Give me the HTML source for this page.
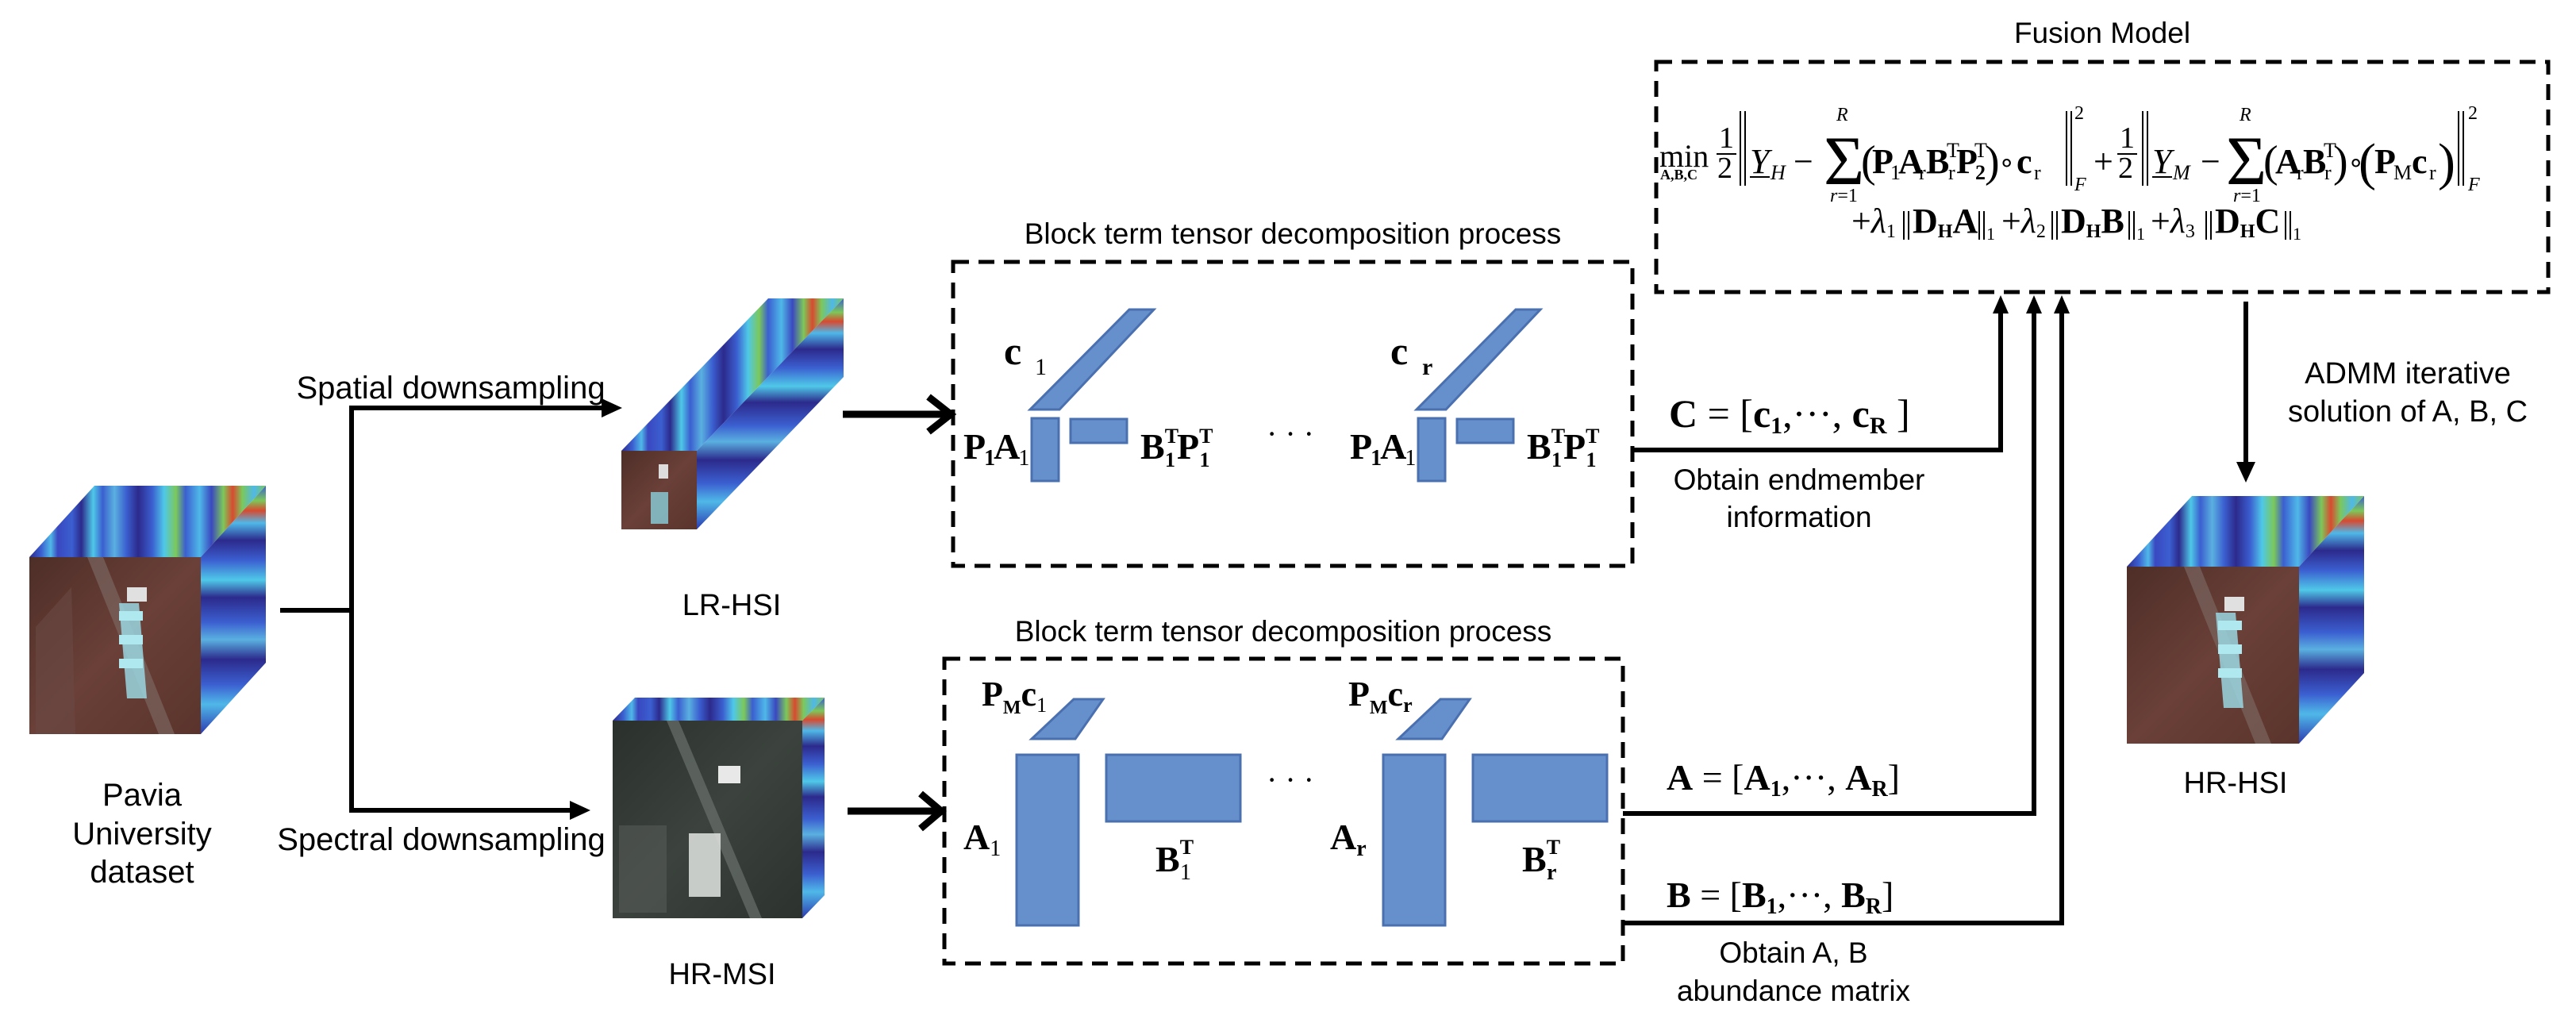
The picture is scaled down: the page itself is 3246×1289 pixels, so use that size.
<!DOCTYPE html>
<html><head><meta charset="utf-8"><style>
html,body{margin:0;padding:0;background:#fff;}
svg{display:block;}
.s{font-family:"Liberation Sans",Arial,sans-serif;fill:#000;}
.m{font-family:"Liberation Serif","Times New Roman",serif;fill:#000;}
.b{font-weight:bold;}
</style></head><body>
<svg width="3246" height="1289" viewBox="0 0 3246 1289" xmlns="http://www.w3.org/2000/svg">
<defs>
<linearGradient id="specx" x1="0" y1="0" x2="1" y2="0">
<stop offset="0" stop-color="#2c2a8c"/><stop offset="0.05" stop-color="#3b5fd0"/><stop offset="0.09" stop-color="#4fb8e8"/>
<stop offset="0.12" stop-color="#3a48c0"/><stop offset="0.18" stop-color="#3b5fd0"/><stop offset="0.22" stop-color="#2c2a8c"/>
<stop offset="0.27" stop-color="#4fc8e8"/><stop offset="0.31" stop-color="#3b5fd0"/><stop offset="0.36" stop-color="#5ab0e0"/>
<stop offset="0.41" stop-color="#3b5fd0"/><stop offset="0.46" stop-color="#2c2a8c"/><stop offset="0.52" stop-color="#3b5fd0"/>
<stop offset="0.57" stop-color="#4fc8e8"/><stop offset="0.62" stop-color="#7cc85a"/><stop offset="0.66" stop-color="#3b5fd0"/>
<stop offset="0.72" stop-color="#4fb8e8"/><stop offset="0.77" stop-color="#3a48c0"/><stop offset="0.82" stop-color="#7cc85a"/>
<stop offset="0.86" stop-color="#d84a30"/><stop offset="0.9" stop-color="#7cc85a"/><stop offset="0.95" stop-color="#4fb8e8"/><stop offset="1" stop-color="#7cc85a"/>
</linearGradient>
<linearGradient id="specy" x1="0" y1="0" x2="0" y2="1">
<stop offset="0" stop-color="#3b5fd0"/><stop offset="0.06" stop-color="#7cc85a"/><stop offset="0.1" stop-color="#d84a30"/>
<stop offset="0.15" stop-color="#4fb8e8"/><stop offset="0.22" stop-color="#2c2a8c"/><stop offset="0.3" stop-color="#3b5fd0"/>
<stop offset="0.38" stop-color="#4fc8e8"/><stop offset="0.45" stop-color="#2c2a8c"/><stop offset="0.55" stop-color="#3b5fd0"/>
<stop offset="0.62" stop-color="#5ab0e0"/><stop offset="0.7" stop-color="#2c2a8c"/><stop offset="0.8" stop-color="#3b5fd0"/>
<stop offset="0.88" stop-color="#4fb8e8"/><stop offset="1" stop-color="#2c3ab0"/>
</linearGradient>
<linearGradient id="rgb" x1="0" y1="0" x2="1" y2="1">
<stop offset="0" stop-color="#4e2e28"/><stop offset="0.5" stop-color="#6a4038"/><stop offset="1" stop-color="#5a342c"/>
</linearGradient>
<linearGradient id="gray" x1="0" y1="0" x2="1" y2="1">
<stop offset="0" stop-color="#2a302c"/><stop offset="0.5" stop-color="#3c433e"/><stop offset="1" stop-color="#2c322e"/>
</linearGradient>
</defs>

<polygon points="37,702 119,612 335,612 253,702" fill="url(#specx)"/>
<polygon points="253,702 335,612 335,835 253,925" fill="url(#specy)"/>
<rect x="37" y="702" width="216" height="223" fill="url(#rgb)"/>
<polygon points="110,702 130,702 220,925 200,925" fill="#7a6560" opacity="0.7"/>
<polygon points="150,760 175,760 185,880 160,880" fill="#9ad6e0" opacity="0.85"/>
<rect x="150" y="770" width="30" height="12" fill="#b0e8f0"/>
<rect x="150" y="800" width="30" height="12" fill="#b0e8f0"/>
<rect x="150" y="830" width="30" height="12" fill="#b0e8f0"/>
<rect x="160" y="740" width="25" height="18" fill="#e0e0e0"/>
<polygon points="45,790 90,740 95,925 45,925" fill="#6a4a44" opacity="0.6"/>

<polygon points="783,568 968,376 1063,376 878,568" fill="url(#specx)"/>
<polygon points="878,568 1063,376 1063,475 878,667" fill="url(#specy)"/>
<rect x="783" y="568" width="95" height="99" fill="url(#rgb)"/>
<rect x="820" y="620" width="22" height="40" fill="#8ad0dc" opacity="0.8"/>
<rect x="830" y="585" width="12" height="18" fill="#ddd"/>

<polygon points="772,908 800,879 1039,879 1011,908" fill="url(#specx)"/>
<polygon points="1011,908 1039,879 1039,1128 1011,1157" fill="url(#specy)"/>
<rect x="772" y="908" width="239" height="249" fill="url(#gray)"/>
<polygon points="840,908 855,908 960,1157 945,1157" fill="#6a706c" opacity="0.7"/>
<rect x="868" y="1050" width="40" height="80" fill="#d8dcd8" opacity="0.9"/>
<rect x="905" y="965" width="28" height="22" fill="#e8e8e8"/>
<rect x="780" y="1040" width="60" height="110" fill="#555a56" opacity="0.6"/>

<polygon points="2680,714 2762,625 2979,625 2897,714" fill="url(#specx)"/>
<polygon points="2897,714 2979,625 2979,848 2897,937" fill="url(#specy)"/>
<rect x="2680" y="714" width="217" height="223" fill="url(#rgb)"/>
<polygon points="2752,714 2772,714 2862,937 2842,937" fill="#7a6560" opacity="0.7"/>
<polygon points="2792,772 2817,772 2827,892 2802,892" fill="#9ad6e0" opacity="0.85"/>
<rect x="2795" y="782" width="30" height="12" fill="#b0e8f0"/>
<rect x="2795" y="812" width="30" height="12" fill="#b0e8f0"/>
<rect x="2795" y="842" width="30" height="12" fill="#b0e8f0"/>
<rect x="2803" y="752" width="25" height="18" fill="#e0e0e0"/>

<g stroke="#000" stroke-width="6" fill="none">
<line x1="353" y1="769" x2="443" y2="769"/>
<line x1="443" y1="511" x2="443" y2="1024"/>
<line x1="440" y1="514" x2="760" y2="514"/>
<line x1="440" y1="1021" x2="720" y2="1021"/>
<line x1="1062" y1="522" x2="1195" y2="522" stroke-width="9"/>
<line x1="1068" y1="1022" x2="1183" y2="1022" stroke-width="9"/>
<polyline points="1170,500 1198,522 1170,544" stroke-width="9"/>
<polyline points="1160,1000 1186,1022 1160,1044" stroke-width="9"/>
</g>
<polygon points="758,502 784,514 758,526" fill="#000"/>
<polygon points="718,1009 744,1021 718,1033" fill="#000"/>

<g stroke="#000" stroke-width="5" fill="none" stroke-dasharray="20 12">
<rect x="1201" y="330" width="856" height="383"/>
<rect x="1190" y="830" width="855" height="384"/>
<rect x="2087" y="78" width="1124" height="290"/>
</g>

<g fill="#6690cc" stroke="#4a70b0" stroke-width="3">
<polygon points="1298,516 1335,516 1454,390 1423,390"/>
<rect x="1300" y="527" width="34" height="79"/>
<rect x="1349" y="528" width="71" height="30"/>
<polygon points="1785,516 1822,516 1941,390 1910,390"/>
<rect x="1787" y="527" width="34" height="79"/>
<rect x="1836" y="528" width="71" height="30"/>
<polygon points="1300,931 1355,931 1390,881 1353,881"/>
<rect x="1281" y="951" width="78" height="215"/>
<rect x="1394" y="951" width="169" height="84"/>
<polygon points="1762,931 1817,931 1852,881 1815,881"/>
<rect x="1743" y="951" width="78" height="215"/>
<rect x="1856" y="951" width="169" height="84"/>
</g>

<g stroke="#000" stroke-width="6" fill="none">
<polyline points="2057,567 2521,567 2521,392"/>
<polyline points="2045,1025 2563,1025 2563,392"/>
<polyline points="2045,1163 2598,1163 2598,392"/>
<line x1="2830" y1="380" x2="2830" y2="585"/>
</g>
<g fill="#000">
<polygon points="2511,395 2521,372 2531,395"/>
<polygon points="2553,395 2563,372 2573,395"/>
<polygon points="2588,395 2598,372 2608,395"/>
<polygon points="2818,582 2830,608 2842,582"/>
</g>

<g class="s" font-size="40" text-anchor="middle">
<text x="568" y="502">Spatial downsampling</text>
<text x="556" y="1071">Spectral downsampling</text>
<text x="179" y="1015">Pavia</text>
<text x="179" y="1064">University</text>
<text x="179" y="1112">dataset</text>
<text x="922" y="775" font-size="38">LR-HSI</text>
<text x="910" y="1240" font-size="38">HR-MSI</text>
<text x="2817" y="999" font-size="38">HR-HSI</text>
<text x="1629" y="307" font-size="37">Block term tensor decomposition process</text>
<text x="1617" y="808" font-size="37">Block term tensor decomposition process</text>
<text x="2649" y="54" font-size="37">Fusion Model</text>
<text x="2267" y="617" font-size="37">Obtain endmember</text>
<text x="2267" y="664" font-size="37">information</text>
<text x="2260" y="1213" font-size="37">Obtain A, B</text>
<text x="2260" y="1261" font-size="37">abundance matrix</text>
<text x="3034" y="483" font-size="38">ADMM iterative</text>
<text x="3034" y="531" font-size="38">solution of A, B, C</text>
</g>

<g class="m">
<text x="1265" y="459" font-size="50" class="b">c</text>
<text x="1304" y="472" font-size="30">1</text>
<text x="1752" y="459" font-size="50" class="b">c</text>
<text x="1792" y="472" font-size="30" class="b">r</text>
<text x="1214" y="578" font-size="46" class="b" letter-spacing="-2">P<tspan font-size="28" dy="8">1</tspan><tspan dy="-8">A</tspan><tspan font-size="28" font-weight="normal" dy="8">1</tspan></text>
<text x="1701" y="578" font-size="46" class="b" letter-spacing="-2">P<tspan font-size="28" dy="8">1</tspan><tspan dy="-8">A</tspan><tspan font-size="28" font-weight="normal" dy="8">1</tspan></text>
<text x="1437" y="578" font-size="46" class="b">B<tspan font-size="26" dy="-20">T</tspan><tspan font-size="26" dx="-17" dy="30">1</tspan><tspan dx="2" dy="-10">P</tspan><tspan font-size="26" dy="-20">T</tspan><tspan font-size="26" dx="-17" dy="30">1</tspan></text>
<text x="1924" y="578" font-size="46" class="b">B<tspan font-size="26" dy="-20">T</tspan><tspan font-size="26" dx="-17" dy="30">1</tspan><tspan dx="2" dy="-10">P</tspan><tspan font-size="26" dy="-20">T</tspan><tspan font-size="26" dx="-17" dy="30">1</tspan></text>
<text x="1596" y="560" font-size="40">· · ·</text>
<text x="1596" y="996" font-size="40">· · ·</text>
<text x="1237" y="889" font-size="44" class="b">P<tspan font-size="24" dy="10">M</tspan><tspan dy="-10">c</tspan><tspan font-size="26" font-weight="normal" dy="8">1</tspan></text>
<text x="1699" y="889" font-size="44" class="b">P<tspan font-size="24" dy="10">M</tspan><tspan dy="-10">c</tspan><tspan font-size="26" dy="8">r</tspan></text>
<text x="1214" y="1070" font-size="46" class="b">A<tspan font-size="28" font-weight="normal" dy="8">1</tspan></text>
<text x="1676" y="1070" font-size="46" class="b">A<tspan font-size="28" dy="8">r</tspan></text>
<text x="1456" y="1098" font-size="46" class="b">B<tspan font-size="26" dy="-22">T</tspan><tspan font-size="28" font-weight="normal" dx="-17" dy="32">1</tspan></text>
<text x="1918" y="1098" font-size="46" class="b">B<tspan font-size="26" dy="-22">T</tspan><tspan font-size="28" dx="-17" dy="32">r</tspan></text>
<text x="2103" y="538" font-size="50"><tspan class="b">C</tspan> = [<tspan class="b">c</tspan><tspan font-size="30" class="b" dy="8">1</tspan><tspan dy="-8">,···, </tspan><tspan class="b">c</tspan><tspan font-size="30" class="b" dy="8">R</tspan><tspan dy="-8"> ]</tspan></text>
<text x="2100" y="995" font-size="46"><tspan class="b">A</tspan> = [<tspan class="b">A</tspan><tspan font-size="28" class="b" dy="8">1</tspan><tspan dy="-8">,···, </tspan><tspan class="b">A</tspan><tspan font-size="28" class="b" dy="8">R</tspan><tspan dy="-8">]</tspan></text>
<text x="2100" y="1143" font-size="46"><tspan class="b">B</tspan> = [<tspan class="b">B</tspan><tspan font-size="28" class="b" dy="8">1</tspan><tspan dy="-8">,···, </tspan><tspan class="b">B</tspan><tspan font-size="28" class="b" dy="8">R</tspan><tspan dy="-8">]</tspan></text>
</g>

<g class="m" font-size="44">
<text x="2091" y="210" font-size="40">min</text>
<text x="2092" y="226" font-size="18" class="b">A,B,C</text>
<text x="2166" y="186" font-size="38">1</text>
<line x1="2163" y1="194" x2="2188" y2="194" stroke="#000" stroke-width="2"/>
<text x="2164" y="224" font-size="38">2</text>
<line x1="2193" y1="140" x2="2193" y2="234" stroke="#000" stroke-width="2"/>
<line x1="2199" y1="140" x2="2199" y2="234" stroke="#000" stroke-width="2"/>
<text x="2205" y="218" font-style="italic">Y</text>
<line x1="2205" y1="223" x2="2230" y2="223" stroke="#000" stroke-width="2"/>
<text x="2231" y="226" font-size="26" font-style="italic">H</text>
<text x="2260" y="218">−</text>
<text x="2298" y="232" style="font-size:88px">Σ</text>
<text x="2314" y="152" font-size="24" font-style="italic">R</text>
<text x="2306" y="254" font-size="24"><tspan font-style="italic">r</tspan>=1</text>
<text x="2345" y="222" style="font-size:56px">(</text>
<text x="2359" y="218" class="b">P</text><text x="2382" y="226" font-size="26">1</text>
<text x="2392" y="218" class="b">A</text><text x="2418" y="226" font-size="26">r</text>
<text x="2427" y="218" class="b">B</text><text x="2453" y="198" font-size="26">T</text><text x="2455" y="226" font-size="26">r</text>
<text x="2465" y="218" class="b">P</text><text x="2488" y="198" font-size="26">T</text><text x="2489" y="226" font-size="26" class="b">2</text>
<text x="2501" y="222" style="font-size:56px">)</text>
<text x="2518" y="216" font-size="34">∘</text>
<text x="2541" y="218" class="b">c</text><text x="2563" y="226" font-size="26">r</text>
<line x1="2604" y1="140" x2="2604" y2="234" stroke="#000" stroke-width="2"/>
<line x1="2610" y1="140" x2="2610" y2="234" stroke="#000" stroke-width="2"/>
<text x="2614" y="150" font-size="24">2</text>
<text x="2614" y="240" font-size="24" font-style="italic">F</text>
<text x="2638" y="218">+</text>
<text x="2671" y="186" font-size="38">1</text>
<line x1="2668" y1="194" x2="2693" y2="194" stroke="#000" stroke-width="2"/>
<text x="2669" y="224" font-size="38">2</text>
<line x1="2700" y1="140" x2="2700" y2="234" stroke="#000" stroke-width="2"/>
<line x1="2706" y1="140" x2="2706" y2="234" stroke="#000" stroke-width="2"/>
<text x="2712" y="218" font-style="italic">Y</text>
<line x1="2712" y1="223" x2="2737" y2="223" stroke="#000" stroke-width="2"/>
<text x="2738" y="226" font-size="26" font-style="italic">M</text>
<text x="2773" y="218">−</text>
<text x="2805" y="232" style="font-size:88px">Σ</text>
<text x="2822" y="152" font-size="24" font-style="italic">R</text>
<text x="2814" y="254" font-size="24"><tspan font-style="italic">r</tspan>=1</text>
<text x="2852" y="222" style="font-size:56px">(</text>
<text x="2867" y="218" class="b">A</text><text x="2894" y="226" font-size="26">r</text>
<text x="2902" y="218" class="b">B</text><text x="2928" y="198" font-size="26">T</text><text x="2929" y="226" font-size="26">r</text>
<text x="2940" y="222" style="font-size:56px">)</text>
<text x="2958" y="216" font-size="34">∘</text>
<text x="2972" y="226" style="font-size:66px">(</text>
<text x="2992" y="218" class="b">P</text><text x="3016" y="226" font-size="26">M</text>
<text x="3039" y="218" class="b">c</text><text x="3061" y="226" font-size="26">r</text>
<text x="3072" y="226" style="font-size:66px">)</text>
<line x1="3098" y1="140" x2="3098" y2="234" stroke="#000" stroke-width="2"/>
<line x1="3104" y1="140" x2="3104" y2="234" stroke="#000" stroke-width="2"/>
<text x="3110" y="150" font-size="24">2</text>
<text x="3110" y="240" font-size="24" font-style="italic">F</text>
<text x="2333" y="293">+<tspan font-style="italic">λ</tspan><tspan font-size="24" dy="6">1</tspan></text>
<line x1="2399" y1="266" x2="2399" y2="302" stroke="#000" stroke-width="2"/><line x1="2405" y1="266" x2="2405" y2="302" stroke="#000" stroke-width="2"/>
<text x="2410" y="293" class="b">D<tspan font-size="24" dy="6">H</tspan><tspan dy="-6">A</tspan></text>
<line x1="2494" y1="266" x2="2494" y2="302" stroke="#000" stroke-width="2"/><line x1="2500" y1="266" x2="2500" y2="302" stroke="#000" stroke-width="2"/>
<text x="2503" y="302" font-size="22">1</text>
<text x="2522" y="293">+<tspan font-style="italic">λ</tspan><tspan font-size="24" dy="6">2</tspan></text>
<line x1="2586" y1="266" x2="2586" y2="302" stroke="#000" stroke-width="2"/><line x1="2592" y1="266" x2="2592" y2="302" stroke="#000" stroke-width="2"/>
<text x="2597" y="293" class="b">D<tspan font-size="24" dy="6">H</tspan><tspan dy="-6">B</tspan></text>
<line x1="2683" y1="266" x2="2683" y2="302" stroke="#000" stroke-width="2"/><line x1="2689" y1="266" x2="2689" y2="302" stroke="#000" stroke-width="2"/>
<text x="2692" y="302" font-size="22">1</text>
<text x="2710" y="293">+<tspan font-style="italic">λ</tspan><tspan font-size="24" dy="6">3</tspan></text>
<line x1="2780" y1="266" x2="2780" y2="302" stroke="#000" stroke-width="2"/><line x1="2786" y1="266" x2="2786" y2="302" stroke="#000" stroke-width="2"/>
<text x="2791" y="293" class="b">D<tspan font-size="24" dy="6">H</tspan><tspan dy="-6">C</tspan></text>
<line x1="2880" y1="266" x2="2880" y2="302" stroke="#000" stroke-width="2"/><line x1="2886" y1="266" x2="2886" y2="302" stroke="#000" stroke-width="2"/>
<text x="2889" y="302" font-size="22">1</text>
</g>
</svg>
</body></html>
